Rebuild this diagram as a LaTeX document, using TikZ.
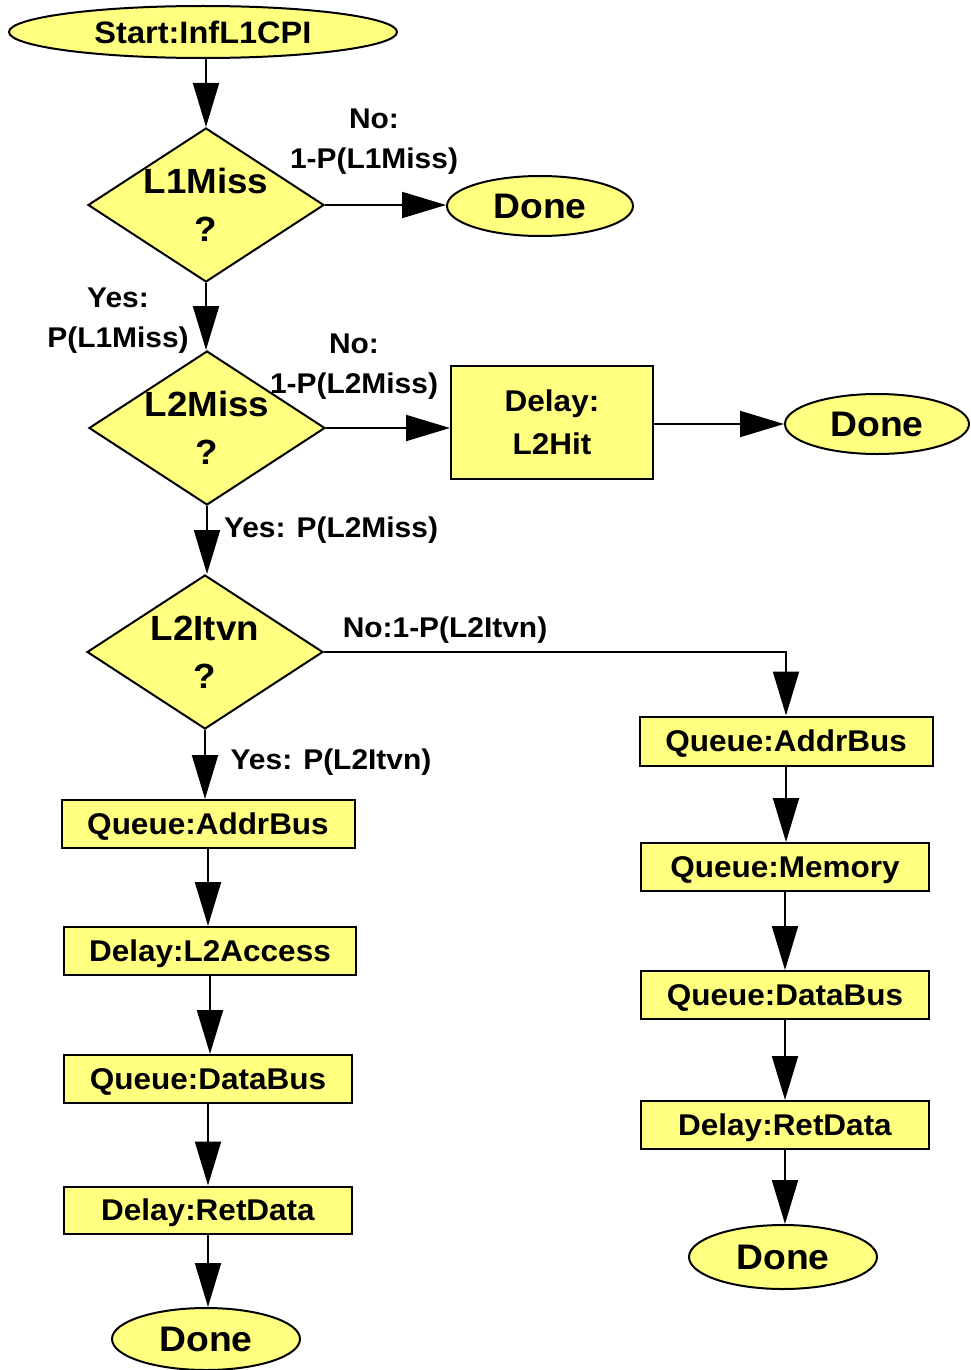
\documentclass[tikz,border=0pt]{standalone}
\usepackage{fontspec}
\setmainfont{Liberation Sans}[FakeStretch=1.05]
\usetikzlibrary{arrows.meta,shapes.geometric}
\definecolor{boxfill}{RGB}{255,255,128}
\tikzset{
  base/.style={draw=black, line width=2pt, fill=boxfill, inner sep=0pt, font=\bfseries},
  terminal/.style={base, ellipse, font=\fontsize{35.5}{40}\selectfont\bfseries},
  stepbox/.style={base, rectangle, align=center, font=\fontsize{30}{43}\selectfont\bfseries},
  onebox/.style={base, rectangle, font=\fontsize{30}{43}\selectfont\bfseries, text height=21.6pt, text depth=0pt},
  decision/.style={base, diamond, minimum width=236pt, minimum height=154pt},
  dtext/.style={align=center, font=\fontsize{35}{48}\selectfont\bfseries},
  lbl/.style={align=center, inner sep=0pt, font=\fontsize{28.5}{40}\selectfont\bfseries},
  flow/.style={line width=2pt, -{Triangle[length=44pt,width=26pt]}},
}
\begin{document}
\begin{tikzpicture}[x=1pt, y=-1pt]
\useasboundingbox (0,0) rectangle (970,1370);

% start and the first decision
\node[terminal, minimum width=388pt, minimum height=52pt, font=\fontsize{31}{36}\selectfont\bfseries] (start) at (203,32) {Start:InfL1CPI};
\node[decision, label={[dtext]center:L1Miss\\?}] (l1) at (206,205) {};
\node[terminal, minimum width=186pt, minimum height=60pt] (done1) at (540,206) {Done};

% second decision and the L2 hit path
\node[decision, label={[dtext]center:L2Miss\\?}] (l2) at (207,428) {};
\node[stepbox, minimum width=202pt, minimum height=113pt] (hit) at (552,422) {Delay:\\L2Hit};
\node[terminal, minimum width=184pt, minimum height=60pt] (done2) at (877,424) {Done};

% intervention decision
\node[decision, label={[dtext]center:L2Itvn\\?}] (l3) at (205,652) {};

% left column: intervention path
\node[onebox, minimum width=293pt, minimum height=48pt] (la) at (208,824) {Queue:AddrBus};
\node[onebox, minimum width=292pt, minimum height=48pt] (lb) at (210,951) {Delay:L2Access};
\node[onebox, minimum width=288pt, minimum height=48pt] (lc) at (208,1079) {Queue:DataBus};
\node[onebox, minimum width=288pt, minimum height=47pt] (ld) at (208,1210) {Delay:RetData};
\node[terminal, minimum width=188pt, minimum height=62pt] (done3) at (206,1339) {Done};

% right column: memory path
\node[onebox, minimum width=293pt, minimum height=49pt] (ra) at (786,741) {Queue:AddrBus};
\node[onebox, minimum width=288pt, minimum height=48pt] (rb) at (785,867) {Queue:Memory};
\node[onebox, minimum width=288pt, minimum height=48pt] (rc) at (785,995) {Queue:DataBus};
\node[onebox, minimum width=288pt, minimum height=48pt] (rd) at (785,1125) {Delay:RetData};
\node[terminal, minimum width=188pt, minimum height=64pt] (done4) at (783,1257) {Done};

% branch labels
\node[lbl] (n1) at (374,142) {No:\\1-P(L1Miss)};
\node[lbl] (y1) at (118,321) {Yes:\\P(L1Miss)};
\node[lbl] (n2) at (354,367) {No:\\1-P(L2Miss)};
\node[lbl] (y2) at (331,530) {Yes: P(L2Miss)};
\node[lbl] (n3) at (445,630) {No:1-P(L2Itvn)};
\node[lbl] (y3) at (331,762) {Yes: P(L2Itvn)};

% connectors
\draw[flow] (l1.north |- start.south) -- (l1.north);
\draw[flow] (l1.east) -- (l1.east -| done1.west);
\draw[flow] (l1.south) -- (l1.south |- l2.north);
\draw[flow] (l2.east) -- (l2.east -| hit.west);
\draw[flow] (hit.east |- done2.west) -- (done2.west);
\draw[flow] (l2.south) -- (l2.south |- l3.north);
\draw[flow] (l3.east) -| (ra.north);
\draw[flow] (l3.south) -- (l3.south |- la.north);
\draw[flow] (la) -- (la |- lb.north);
\draw[flow] (lb) -- (lb |- lc.north);
\draw[flow] (lc) -- (lc |- ld.north);
\draw[flow] (ld) -- (ld |- done3.north);
\draw[flow] (ra) -- (ra |- rb.north);
\draw[flow] (rb) -- (rb |- rc.north);
\draw[flow] (rc) -- (rc |- rd.north);
\draw[flow] (rd) -- (rd |- done4.north);
\end{tikzpicture}
\end{document}
